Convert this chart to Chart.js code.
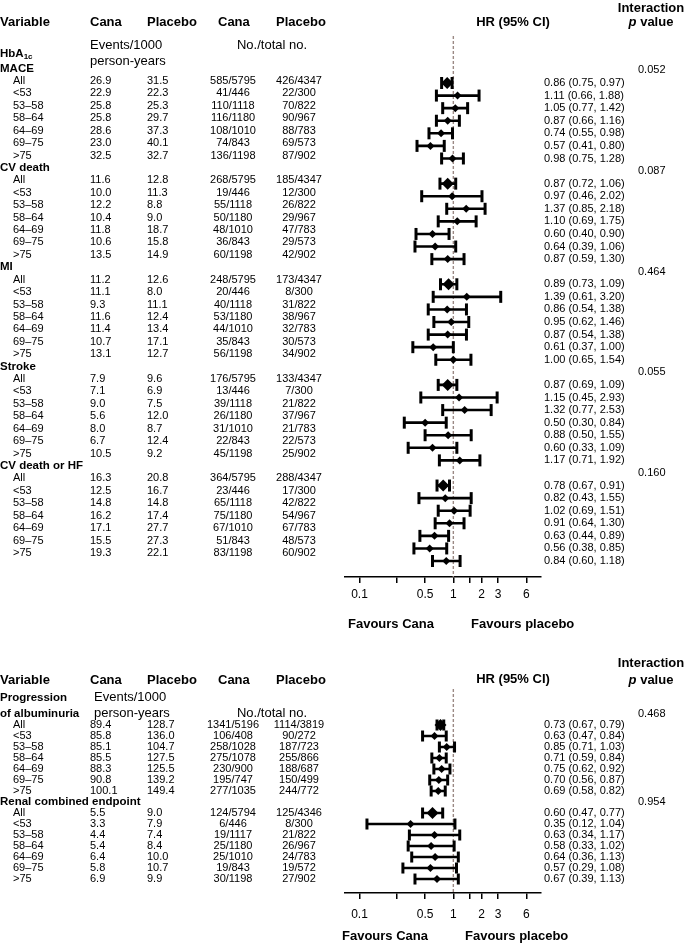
<!DOCTYPE html>
<html>
<head>
<meta charset="utf-8">
<script src="https://cdn.jsdelivr.net/npm/chart.js@4.4.1/dist/chart.umd.min.js"></script>
<style>
  body { margin: 0; background: #fff; width: 685px; height: 944px; overflow: hidden; position: relative; }
  canvas { position: absolute; left: 0; }
  #topChart { top: 0; }
  #bottomChart { top: 640px; }
</style>
</head>
<body>
<canvas id="topChart" width="685" height="640"></canvas>
<canvas id="bottomChart" width="685" height="304"></canvas>
<script>
// subgroups (age bands) shared by every outcome
const subgroups = ['All', '<53', '53–58', '58–64', '64–69', '69–75', '>75'];

// x axis ticks
const axisTicks = [0.1, 0.25, 0.5, 1, 1.5, 2, 3, 6];
const axisLabels = ['0.1', '', '0.5', '1', '', '2', '3', '6'];

// ---- top panel (HbA1c) ----
const topOutcomes = ['MACE', 'CV death', 'MI', 'Stroke', 'CV death or HF'];
const topP = ['0.052', '0.087', '0.464', '0.055', '0.160'];
const topHR = [
  [0.86, 1.11, 1.05, 0.87, 0.74, 0.57, 0.98],
  [0.87, 0.97, 1.37, 1.10, 0.60, 0.64, 0.87],
  [0.89, 1.39, 0.86, 0.95, 0.87, 0.61, 1.00],
  [0.87, 1.15, 1.32, 0.50, 0.88, 0.60, 1.17],
  [0.78, 0.82, 1.02, 0.91, 0.63, 0.56, 0.84]
];
const topLow = [
  [0.75, 0.66, 0.77, 0.66, 0.55, 0.41, 0.75],
  [0.72, 0.46, 0.85, 0.69, 0.40, 0.39, 0.59],
  [0.73, 0.61, 0.54, 0.62, 0.54, 0.37, 0.65],
  [0.69, 0.45, 0.77, 0.30, 0.50, 0.33, 0.71],
  [0.67, 0.43, 0.69, 0.64, 0.44, 0.38, 0.60]
];
const topHigh = [
  [0.97, 1.88, 1.42, 1.16, 0.98, 0.80, 1.28],
  [1.06, 2.02, 2.18, 1.75, 0.90, 1.06, 1.30],
  [1.09, 3.20, 1.38, 1.46, 1.38, 1.00, 1.54],
  [1.09, 2.93, 2.53, 0.84, 1.55, 1.09, 1.92],
  [0.91, 1.55, 1.51, 1.30, 0.89, 0.85, 1.18]
];
const topRateCana = [
  ['26.9', '22.9', '25.8', '25.8', '28.6', '23.0', '32.5'],
  ['11.6', '10.0', '12.2', '10.4', '11.8', '10.6', '13.5'],
  ['11.2', '11.1', '9.3', '11.6', '11.4', '10.7', '13.1'],
  ['7.9', '7.1', '9.0', '5.6', '8.0', '6.7', '10.5'],
  ['16.3', '12.5', '14.8', '16.2', '17.1', '15.5', '19.3']
];
const topRatePlacebo = [
  ['31.5', '22.3', '25.3', '29.7', '37.3', '40.1', '32.7'],
  ['12.8', '11.3', '8.8', '9.0', '18.7', '15.8', '14.9'],
  ['12.6', '8.0', '11.1', '12.4', '13.4', '17.1', '12.7'],
  ['9.6', '6.9', '7.5', '12.0', '8.7', '12.4', '9.2'],
  ['20.8', '16.7', '14.8', '17.4', '27.7', '27.3', '22.1']
];
const topNCana = [
  ['585/5795', '41/446', '110/1118', '116/1180', '108/1010', '74/843', '136/1198'],
  ['268/5795', '19/446', '55/1118', '50/1180', '48/1010', '36/843', '60/1198'],
  ['248/5795', '20/446', '40/1118', '53/1180', '44/1010', '35/843', '56/1198'],
  ['176/5795', '13/446', '39/1118', '26/1180', '31/1010', '22/843', '45/1198'],
  ['364/5795', '23/446', '65/1118', '75/1180', '67/1010', '51/843', '83/1198']
];
const topNPlacebo = [
  ['426/4347', '22/300', '70/822', '90/967', '88/783', '69/573', '87/902'],
  ['185/4347', '12/300', '26/822', '29/967', '47/783', '29/573', '42/902'],
  ['173/4347', '8/300', '31/822', '38/967', '32/783', '30/573', '34/902'],
  ['133/4347', '7/300', '21/822', '37/967', '21/783', '22/573', '25/902'],
  ['288/4347', '17/300', '42/822', '54/967', '67/783', '48/573', '60/902']
];

// ---- bottom panel (renal) ----
const botOutcomes = ['Progression\nof albuminuria', 'Renal combined endpoint'];
const botP = ['0.468', '0.954'];
const botHR = [
  [0.73, 0.63, 0.85, 0.71, 0.75, 0.70, 0.69],
  [0.60, 0.35, 0.63, 0.58, 0.64, 0.57, 0.67]
];
const botLow = [
  [0.67, 0.47, 0.71, 0.59, 0.62, 0.56, 0.58],
  [0.47, 0.12, 0.34, 0.33, 0.36, 0.29, 0.39]
];
const botHigh = [
  [0.79, 0.84, 1.03, 0.84, 0.92, 0.87, 0.82],
  [0.77, 1.04, 1.17, 1.02, 1.13, 1.08, 1.13]
];
const botRateCana = [
  ['89.4', '85.8', '85.1', '85.5', '88.3', '90.8', '100.1'],
  ['5.5', '3.3', '4.4', '5.4', '6.4', '5.8', '6.9']
];
const botRatePlacebo = [
  ['128.7', '136.0', '104.7', '127.5', '125.5', '139.2', '149.4'],
  ['9.0', '7.9', '7.4', '8.4', '10.0', '10.7', '9.9']
];
const botNCana = [
  ['1341/5196', '106/408', '258/1028', '275/1078', '230/900', '195/747', '277/1035'],
  ['124/5794', '6/446', '19/1117', '25/1180', '25/1010', '19/843', '30/1198']
];
const botNPlacebo = [
  ['1114/3819', '90/272', '187/723', '255/866', '188/687', '150/499', '244/772'],
  ['125/4346', '8/300', '21/822', '26/967', '24/783', '19/572', '27/902']
];

const FAM = '"Liberation Sans", Arial, Helvetica, sans-serif';
const F_HEAD = 'bold 13px ' + FAM;
const F_NOTE = '13px ' + FAM;
const F_GROUP = 'bold 11.5px ' + FAM;
const F_DATA = '11px ' + FAM;
const COL = { label: 0, sub: 13, rateC: 90, rateP: 147, nC: 233, nP: 299, hr: 544, p: 638 };

function txt(ctx, s, x, y, font, align) {
  ctx.font = font;
  ctx.textAlign = align || 'left';
  ctx.fillText(s, x, y);
}

function fmtHR(h, l, u) {
  return h.toFixed(2) + ' (' + l.toFixed(2) + ', ' + u.toFixed(2) + ')';
}

function drawHeaders(ctx, yInter, yHead, yHR) {
  txt(ctx, 'Interaction', 651, yInter, F_HEAD, 'center');
  ctx.font = 'italic bold 13px ' + FAM;
  const wp = ctx.measureText('p').width;
  ctx.font = F_HEAD;
  const wv = ctx.measureText(' value').width;
  const x0 = 651 - (wp + wv) / 2;
  txt(ctx, 'p', x0, yHead, 'italic bold 13px ' + FAM);
  txt(ctx, ' value', x0 + wp, yHead, F_HEAD);
  txt(ctx, 'Variable', 0, yHead, F_HEAD);
  txt(ctx, 'Cana', 90, yHead, F_HEAD);
  txt(ctx, 'Placebo', 147, yHead, F_HEAD);
  txt(ctx, 'Cana', 218, yHead, F_HEAD);
  txt(ctx, 'Placebo', 276, yHead, F_HEAD);
  txt(ctx, 'HR (95% CI)', 513, yHR, F_HEAD, 'center');
}

function drawRows(chart, d) {
  const ctx = chart.ctx;
  const y = chart.scales.y, yt = chart.scales.yt;
  d.outcomes.forEach((name, k) => {
    const lines = name.split('\n');
    const hy = yt.getPixelForValue(k * 8 - 1);
    lines.forEach((ln, i) => {
      txt(ctx, ln, COL.label, hy - (lines.length - 1 - i) * d.lineStep, F_GROUP);
    });
    txt(ctx, d.p[k], COL.p, y.getPixelForValue(k * 8 - 1), F_DATA);
    subgroups.forEach((sg, j) => {
      const ty = yt.getPixelForValue(k * 8 + j);
      const fy = y.getPixelForValue(k * 8 + j);
      txt(ctx, sg, COL.sub, ty, F_DATA);
      txt(ctx, d.rateC[k][j], COL.rateC, ty, F_DATA);
      txt(ctx, d.rateP[k][j], COL.rateP, ty, F_DATA);
      txt(ctx, d.nC[k][j], COL.nC, ty, F_DATA, 'center');
      txt(ctx, d.nP[k][j], COL.nP, ty, F_DATA, 'center');
      txt(ctx, fmtHR(d.hr[k][j], d.lo[k][j], d.hi[k][j]), COL.hr, fy, F_DATA);
    });
  });
  txt(ctx, 'Favours Cana', d.favC, d.favY, F_HEAD);
  txt(ctx, 'Favours placebo', d.favP, d.favY, F_HEAD);
}

function makeChart(id, d) {
  const ciData = [], capData = [], ptData = [], ptRadius = [];
  d.outcomes.forEach((name, k) => {
    subgroups.forEach((sg, j) => {
      const r = k * 8 + j;
      ciData.push({ x: d.lo[k][j], y: r }, { x: d.hi[k][j], y: r }, { x: null, y: null });
      capData.push({ x: d.lo[k][j], y: r }, { x: d.hi[k][j], y: r });
      ptData.push({ x: d.hr[k][j], y: r });
      ptRadius.push(j === 0 ? 6 : 4);
    });
  });

  const textPlugin = {
    id: 'tableText',
    afterDraw(chart) {
      const ctx = chart.ctx;
      ctx.save();
      ctx.fillStyle = '#000';
      ctx.textBaseline = 'middle';
      d.header(ctx);
      drawRows(chart, d);
      ctx.restore();
    }
  };

  return new Chart(document.getElementById(id), {
    type: 'scatter',
    data: {
      datasets: [
        { data: ptData, pointStyle: 'rectRot', pointRadius: ptRadius, pointBackgroundColor: '#000',
          pointBorderWidth: 0, showLine: false },
        { data: capData, pointStyle: 'line', pointRotation: 90, pointRadius: d.capR,
          pointBorderColor: '#000', pointBorderWidth: 3, showLine: false },
        { data: ciData, showLine: true, spanGaps: false, borderColor: '#000', borderWidth: 2.6, pointRadius: 0 },
        { data: [{ x: 1, y: d.yMin }, { x: 1, y: d.yMax }], showLine: true, borderColor: '#9b8984',
          borderWidth: 1.4, borderDash: [3, 2], pointRadius: 0 }
      ]
    },
    options: {
      responsive: false,
      animation: false,
      devicePixelRatio: 1,
      events: [],
      layout: { padding: { left: 345, right: 144, top: d.padTop, bottom: d.padBottom } },
      plugins: { legend: { display: false }, tooltip: { enabled: false } },
      scales: {
        x: {
          type: 'logarithmic', position: 'bottom', min: 0.07, max: 8.6,
          afterBuildTicks: s => { s.ticks = axisTicks.map(v => ({ value: v })); },
          afterFit: s => { s.height = 36; },
          border: { display: true, color: '#000', width: 1.5 },
          grid: { drawOnChartArea: false, drawTicks: true, tickLength: 6, color: '#000', lineWidth: 1.5 },
          ticks: { color: '#000', font: { family: FAM, size: 12 }, padding: d.tickPad, autoSkip: false,
                   maxRotation: 0, callback: (v, i) => axisLabels[i] }
        },
        y: { type: 'linear', axis: 'y', display: false, reverse: true, min: d.yMin, max: d.yMax },
        yt: { type: 'linear', axis: 'y', position: 'left', display: false, reverse: true, min: d.ytMin, max: d.ytMax }
      }
    },
    plugins: [textPlugin]
  });
}

makeChart('topChart', {
  outcomes: topOutcomes, p: topP, hr: topHR, lo: topLow, hi: topHigh,
  rateC: topRateCana, rateP: topRatePlacebo, nC: topNCana, nP: topNPlacebo,
  yMin: -3.736, yMax: 39.27, ytMin: -3.623, ytMax: 39.94,
  padTop: 36, padBottom: 27, tickPad: 4, capR: 6, lineStep: 15,
  favC: 348, favP: 471, favY: 624,
  header(ctx) {
    drawHeaders(ctx, 8, 22, 22);
    txt(ctx, 'Events/1000', 90, 45, F_NOTE);
    txt(ctx, 'person-years', 90, 61, F_NOTE);
    txt(ctx, 'No./total no.', 272, 45, F_NOTE, 'center');
    txt(ctx, 'HbA', 0, 54, F_GROUP);
    ctx.font = F_GROUP;
    const w = ctx.measureText('HbA').width;
    txt(ctx, '1c', w, 57, 'bold 8px ' + FAM);
  }
});

makeChart('bottomChart', {
  outcomes: botOutcomes, p: botP, hr: botHR, lo: botLow, hi: botHigh,
  rateC: botRateCana, rateP: botRatePlacebo, nC: botNCana, nP: botNPlacebo,
  yMin: -3.273, yMax: 15.27, ytMin: -3.273, ytMax: 15.27,
  padTop: 49, padBottom: 15, tickPad: 8, capR: 5.5, lineStep: 16,
  favC: 342, favP: 465, favY: 296,
  header(ctx) {
    drawHeaders(ctx, 23, 40, 39);
    txt(ctx, 'Events/1000', 94, 57, F_NOTE);
    txt(ctx, 'person-years', 94, 73, F_NOTE);
    txt(ctx, 'No./total no.', 272, 73, F_NOTE, 'center');
  }
});
</script>
</body>
</html>
